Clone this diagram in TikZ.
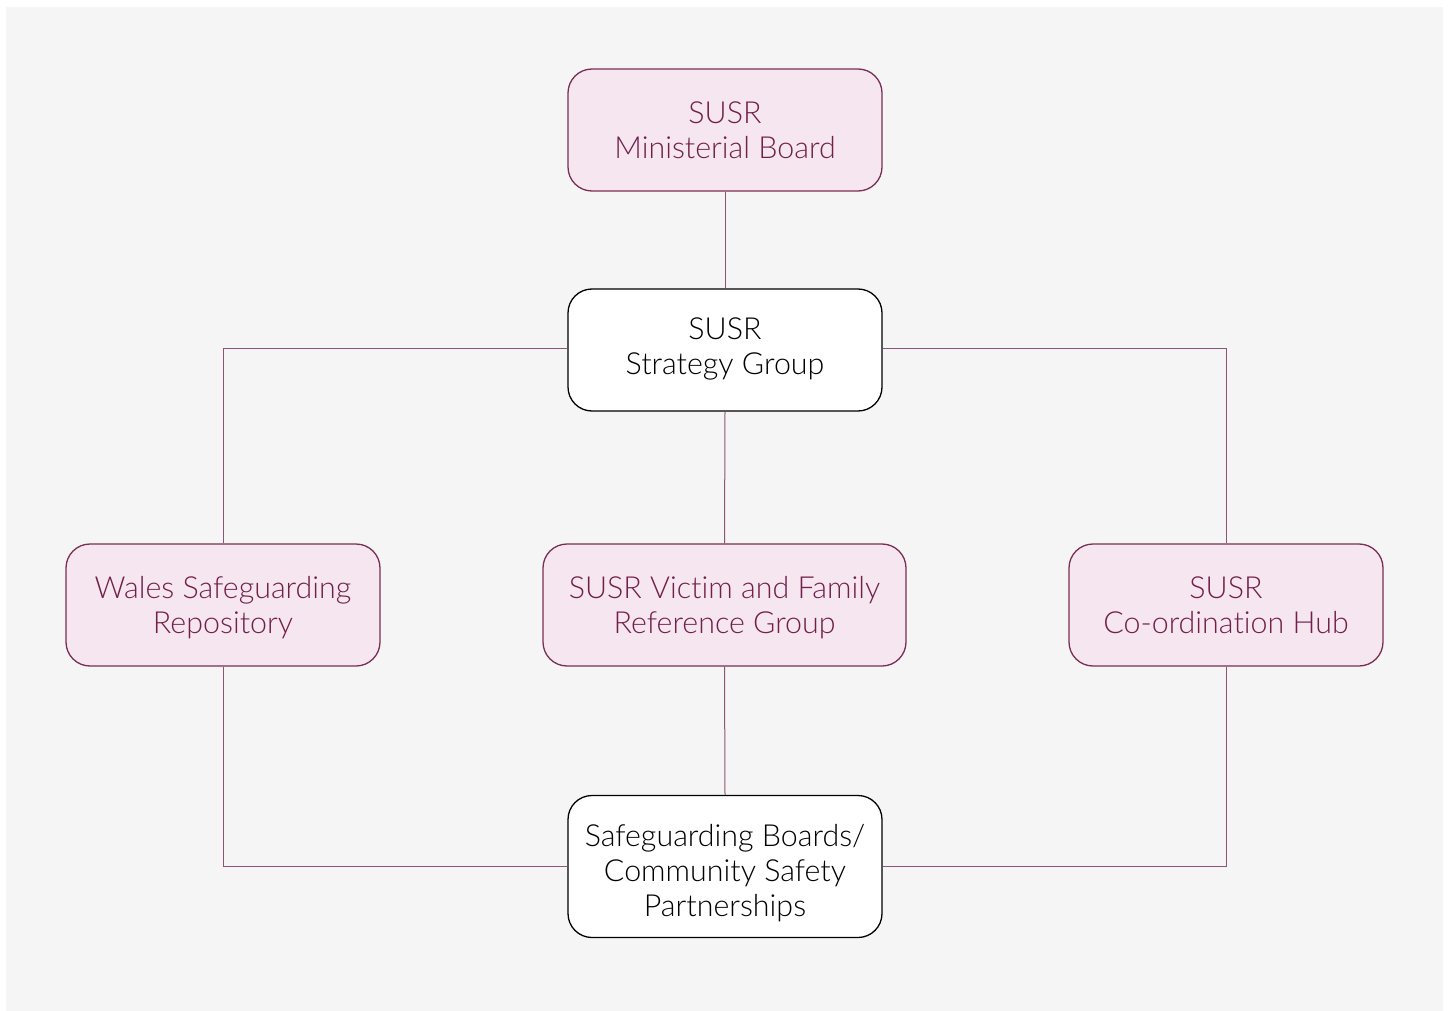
\documentclass[tikz,border=0pt]{standalone}
\usepackage{fontspec}
\setmainfont{Lato}[UprightFont=* Light, Ligatures={NoCommon}]
\definecolor{bgc}{HTML}{F5F5F5}
\definecolor{pinkfill}{HTML}{F5E6EF}
\definecolor{maroon}{HTML}{7A2E55}
\definecolor{maroontext}{HTML}{72204B}
\definecolor{linec}{HTML}{8C5573}
% first-line baseline placed at depth/2 above node centre
\newcommand{\boxtext}[2]{\raisebox{0pt}[0pt][#1]{\begin{tabular}[t]{@{}c@{}}#2\end{tabular}}}
\begin{document}
\begin{tikzpicture}[x=1pt,y=-1pt,
  box/.style={rectangle, rounded corners=24pt, line width=1.3pt, minimum width=314pt, minimum height=122pt, inner sep=0pt, font=\fontsize{30.4}{35}\selectfont},
  pinkbox/.style={box, draw=maroon, fill=pinkfill, text=maroontext},
  whitebox/.style={box, draw=black, fill=white, text=black},
  conn/.style={draw=linec, line width=1pt}]
\useasboundingbox (0,0) rectangle (1449,1011);
\fill[bgc] (6,7) rectangle (1443,1011);
\node[pinkbox] (mb) at (725,130) {\boxtext{13pt}{SUSR\\Ministerial Board}};
\node[whitebox] (sg) at (725,350) {\boxtext{21pt}{SUSR\\Strategy Group}};
\node[pinkbox] (ws) at (223,605) {\boxtext{13pt}{Wales Safeguarding\\Repository}};
\node[pinkbox, minimum width=363pt] (vf) at (724.5,605) {\boxtext{13pt}{SUSR Victim and Family\\Reference Group}};
\node[pinkbox] (ch) at (1226,605) {\boxtext{13pt}{SUSR\\Co-ordination Hub}};
\node[whitebox, minimum height=142pt] (sb) at (725,866.5) {\boxtext{40pt}{Safeguarding Boards/\\Community Safety\\Partnerships}};
\draw[conn] (mb.south) -- (sg.north);
\draw[conn] (sg.south) -- (vf.north);
\draw[conn] (vf.south) -- (sb.north);
\draw[conn] ([yshift=2pt]sg.west) -| (ws.north);
\draw[conn] ([yshift=2pt]sg.east) -| (ch.north);
\draw[conn] (ws.south) |- (sb.west);
\draw[conn] (ch.south) |- (sb.east);
\end{tikzpicture}
\end{document}
